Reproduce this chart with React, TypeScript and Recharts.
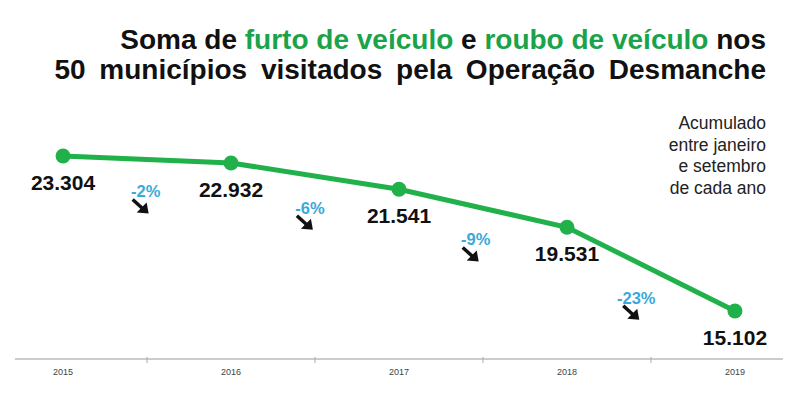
import { FC } from "react";
import { LineChart, Line, XAxis, YAxis, LabelList } from "recharts";

const years = [2015, 2016, 2017, 2018, 2019];
const totals = [23304, 22932, 21541, 19531, 15102];
const changeLabels = ["-2%", "-6%", "-9%", "-23%"];
const noteLines = ["Acumulado", "entre janeiro", "e setembro", "de cada ano"];

const GREEN = "#20b14b";
const TITLE_GREEN = "#19a34a";
const BLUE = "#3aa9d9";
const FONT = "Liberation Sans, Arial, sans-serif";

const data = years.map((year, i) => ({ year, value: totals[i] }));

const yearTicks = years.flatMap((y, i) =>
  i < years.length - 1 ? [y, y + 0.5] : [y]
);

const fmt = (v: number) =>
  String(v).replace(/\B(?=(\d{3})+(?!\d))/g, ".");

const YearTick = (props: any) => {
  const { x, y, payload } = props;
  const v = payload.value as number;
  if (!Number.isInteger(v)) {
    return <line x1={x} x2={x} y1={y - 2} y2={y + 4} stroke="#aaa" />;
  }
  return (
    <text x={x} y={y + 16} textAnchor="middle" fontSize={9} fill="#444" fontFamily={FONT}>
      {v}
    </text>
  );
};

const ValueLabel = (props: any) => {
  const { x, y, value } = props;
  return (
    <text
      x={x}
      y={y + 34}
      textAnchor="middle"
      fontSize={21}
      fontWeight="bold"
      fill="#111"
      fontFamily={FONT}
    >
      {fmt(value)}
    </text>
  );
};

// dot plus the % change label, placed under the middle of the next segment
const Dot = (props: any) => {
  const { cx, cy, index, points } = props;
  let extra = null;
  if (points && index < changeLabels.length && points[index + 1]) {
    const nx = points[index + 1].x;
    const ny = points[index + 1].y;
    const mx = (cx + nx) / 2;
    const my = (cy + ny) / 2;
    const len = Math.hypot(nx - cx, ny - cy);
    const ux = -(ny - cy) / len;
    const uy = (nx - cx) / len;
    const lx = mx + ux * 33;
    const ly = my + uy * 32;
    const ax = lx - 5;
    const ay = ly + 15;
    extra = (
      <g>
        <text
          x={lx}
          y={ly + 6}
          textAnchor="middle"
          fontSize={16.5}
          fontWeight="bold"
          fill={BLUE}
          fontFamily={FONT}
        >
          {changeLabels[index]}
        </text>
        <line x1={ax - 8} y1={ay - 7} x2={ax + 3} y2={ay + 3} stroke="#111" strokeWidth={3.5} />
        <path d={`M${ax + 8},${ay + 7} L${ax - 4},${ay + 6} L${ax + 6},${ay - 4} Z`} fill="#111" />
      </g>
    );
  }
  return (
    <g key={`dot-${index}`}>
      <circle cx={cx} cy={cy} r={7.5} fill={GREEN} />
      {extra}
    </g>
  );
};

const App: FC = () => {
  return (
    <div
      style={{
        position: "absolute",
        left: 0,
        top: 0,
        width: 800,
        height: 396,
        background: "#fff",
        fontFamily: FONT,
      }}
    >
      <div
        style={{
          position: "absolute",
          right: 34,
          top: 25,
          textAlign: "right",
          fontSize: 28,
          lineHeight: "30px",
          fontWeight: "bold",
          color: "#111",
          whiteSpace: "nowrap",
        }}
      >
        <div>
          Soma de <span style={{ color: TITLE_GREEN }}>furto de veículo</span> e{" "}
          <span style={{ color: TITLE_GREEN }}>roubo de veículo</span> nos
        </div>
        <div style={{ wordSpacing: 6 }}>50 municípios visitados pela Operação Desmanche</div>
      </div>
      <div
        style={{
          position: "absolute",
          right: 34,
          top: 113,
          textAlign: "right",
          fontSize: 17.5,
          lineHeight: "21.5px",
          color: "#222",
          whiteSpace: "nowrap",
        }}
      >
        {noteLines.map((t) => (
          <div key={t}>{t}</div>
        ))}
      </div>
      <LineChart
        width={800}
        height={396}
        data={data}
        margin={{ top: 105, right: 17, left: 15, bottom: 0 }}
        style={{ position: "absolute", left: 0, top: 0 }}
      >
        <XAxis
          dataKey="year"
          type="number"
          domain={[2014.714, 2019.286]}
          ticks={yearTicks}
          tick={<YearTick />}
          tickLine={false}
          tickSize={0}
          tickMargin={0}
          height={37}
          stroke="#999"
          allowDataOverflow
          interval={0}
        />
        <YAxis hide domain={[12560, 26000]} allowDataOverflow />
        <Line
          dataKey="value"
          stroke={GREEN}
          strokeWidth={5}
          dot={(p: any) => <Dot {...p} />}
          activeDot={false}
          isAnimationActive={false}
        >
          <LabelList dataKey="value" content={<ValueLabel />} />
        </Line>
      </LineChart>
    </div>
  );
};

export default App;
